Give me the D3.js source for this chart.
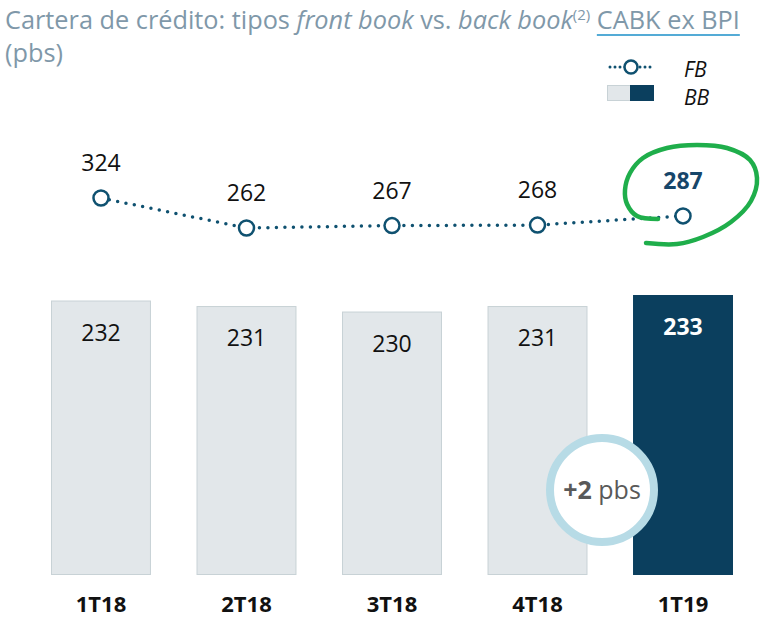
<!DOCTYPE html>
<html>
<head>
<meta charset="utf-8">
<script src="https://cdn.jsdelivr.net/npm/d3@7"></script>
<style>
  body { margin: 0; background: #fff; }
  text { font-family: "Open Sans", "Noto Sans", sans-serif; }
</style>
</head>
<body>
<div id="canvas"></div>
<script>
"use strict"

let quarters = ["1T18", "2T18", "3T18", "4T18", "1T19"];
let frontBook = [324, 262, 267, 268, 287];
let backBook = [232, 231, 230, 231, 233];
let deltaLabel = "+2";

let drawingWidth = 761;
let drawingHeight = 619;

let darkBlue = "#0b3f5e";
let pointBlue = "#0f5170";
let lightBar = "#e2e7ea";
let lightEdge = "#c8d2d6";

let drawing = d3.select("#canvas")
    .append("svg")
    .attr("width", drawingWidth)
    .attr("height", drawingHeight);

// title
let title = drawing.append("text")
    .attr("x", 5)
    .attr("y", 29)
    .attr("fill", "#7f98a9")
    .attr("font-size", 25.3);
title.append("tspan").text("Cartera de crédito: tipos ");
title.append("tspan").attr("font-style", "italic").text("front book");
title.append("tspan").text(" vs. ");
title.append("tspan").attr("font-style", "italic").text("back book");
title.append("tspan").attr("font-size", 15).attr("dy", -9).text("(2)");
title.append("tspan").attr("dy", 9).text(" ");
let cabk = title.append("tspan").text("CABK ex BPI");

drawing.append("text")
    .attr("x", 5)
    .attr("y", 62)
    .attr("fill", "#7f98a9")
    .attr("font-size", 25.3)
    .text("(pbs)");

// underline under CABK ex BPI
let cabkStart = cabk.node().getStartPositionOfChar(0).x;
let cabkEnd = cabk.node().getEndPositionOfChar(10).x;
drawing.append("line")
    .attr("x1", cabkStart).attr("x2", cabkEnd)
    .attr("y1", 35).attr("y2", 35)
    .attr("stroke", "#1b8fc8")
    .attr("stroke-width", 1.5);

// scales
let x = d3.scaleBand()
    .domain(quarters)
    .range([51, 733])
    .paddingInner(0.313)
    .paddingOuter(0);

let yBar = d3.scaleLinear()
    .domain([182.4, 233])
    .range([574, 295]);

let yLine = d3.scaleLinear()
    .domain([262, 324])
    .range([228, 198]);

let last = quarters.length - 1;

// bars
drawing.selectAll(".bar")
    .data(backBook)
    .enter()
    .append("rect")
    .attr("class", "bar")
    .attr("x", (d, i) => x(quarters[i]) + 0.5)
    .attr("y", d => yBar(d) + 0.5)
    .attr("width", x.bandwidth() - 1)
    .attr("height", d => yBar.range()[0] - yBar(d))
    .attr("fill", (d, i) => i == last ? darkBlue : lightBar)
    .attr("stroke", (d, i) => i == last ? darkBlue : lightEdge)
    .attr("stroke-width", 1);

drawing.selectAll(".barLabel")
    .data(backBook)
    .enter()
    .append("text")
    .attr("x", (d, i) => x(quarters[i]) + x.bandwidth() / 2)
    .attr("y", d => yBar(d) + 40)
    .attr("text-anchor", "middle")
    .attr("font-size", 23)
    .attr("font-weight", (d, i) => i == last ? "bold" : "normal")
    .attr("fill", (d, i) => i == last ? "#ffffff" : "#111111")
    .text(d => d);

// category labels
drawing.selectAll(".cat")
    .data(quarters)
    .enter()
    .append("text")
    .attr("x", d => x(d) + x.bandwidth() / 2)
    .attr("y", 612)
    .attr("text-anchor", "middle")
    .attr("font-size", 22)
    .attr("font-weight", "bold")
    .attr("fill", "#111111")
    .text(d => d);

// front book line
let line = d3.line()
    .x((d, i) => x(quarters[i]) + x.bandwidth() / 2)
    .y(d => yLine(d));

drawing.append("path")
    .attr("d", line(frontBook))
    .attr("fill", "none")
    .attr("stroke", pointBlue)
    .attr("stroke-width", 3.5)
    .attr("stroke-linecap", "round")
    .attr("stroke-dasharray", "0,8.5");

drawing.selectAll(".point")
    .data(frontBook)
    .enter()
    .append("circle")
    .attr("cx", (d, i) => x(quarters[i]) + x.bandwidth() / 2)
    .attr("cy", d => yLine(d))
    .attr("r", 7.5)
    .attr("fill", "#ffffff")
    .attr("stroke", pointBlue)
    .attr("stroke-width", 2.5);

drawing.selectAll(".pointLabel")
    .data(frontBook)
    .enter()
    .append("text")
    .attr("x", (d, i) => x(quarters[i]) + x.bandwidth() / 2)
    .attr("y", d => yLine(d) - 27)
    .attr("text-anchor", "middle")
    .attr("font-size", 23)
    .attr("font-weight", (d, i) => i == last ? "bold" : "normal")
    .attr("fill", (d, i) => i == last ? "#17466a" : "#111111")
    .text(d => d);

// green hand drawn loop around the last value
let loopPoints = [
    [658, 219], [637, 216], [627, 204], [625, 190], [630, 173], [643, 158],
    [667, 148], [697, 145], [727, 148], [750, 160], [757, 178], [751, 201],
    [731, 222], [703, 237], [677, 244], [646, 243]
];
drawing.append("path")
    .attr("d", d3.line().curve(d3.curveCatmullRom)(loopPoints))
    .attr("fill", "none")
    .attr("stroke", "#1fae4b")
    .attr("stroke-width", 4.5)
    .attr("stroke-linecap", "round");

// +2 pbs bubble
let bubbleX = 602;
let bubbleY = 490;
drawing.append("circle")
    .attr("cx", bubbleX)
    .attr("cy", bubbleY)
    .attr("r", 52)
    .attr("fill", "#ffffff")
    .attr("stroke", "#b7dbe6")
    .attr("stroke-width", 8);

let bubbleText = drawing.append("text")
    .attr("x", bubbleX)
    .attr("y", bubbleY + 9)
    .attr("text-anchor", "middle")
    .attr("font-size", 25)
    .attr("fill", "#595959");
bubbleText.append("tspan").attr("font-weight", "bold").text(deltaLabel);
bubbleText.append("tspan").text(" pbs");

// legend
drawing.append("line")
    .attr("x1", 610).attr("x2", 654)
    .attr("y1", 67).attr("y2", 67)
    .attr("stroke", pointBlue)
    .attr("stroke-width", 3)
    .attr("stroke-linecap", "round")
    .attr("stroke-dasharray", "0,5");

drawing.append("circle")
    .attr("cx", 631).attr("cy", 67)
    .attr("r", 6.5)
    .attr("fill", "#ffffff")
    .attr("stroke", pointBlue)
    .attr("stroke-width", 2.5);

drawing.append("rect")
    .attr("x", 607.5).attr("y", 85.5)
    .attr("width", 23).attr("height", 15)
    .attr("fill", lightBar)
    .attr("stroke", lightEdge);

drawing.append("rect")
    .attr("x", 630).attr("y", 85)
    .attr("width", 24).attr("height", 16)
    .attr("fill", darkBlue);

drawing.append("text")
    .attr("x", 684).attr("y", 77)
    .attr("font-size", 21)
    .attr("font-style", "italic")
    .attr("fill", "#111111")
    .text("FB");

drawing.append("text")
    .attr("x", 684).attr("y", 105)
    .attr("font-size", 21)
    .attr("font-style", "italic")
    .attr("fill", "#111111")
    .text("BB");
</script>
</body>
</html>
